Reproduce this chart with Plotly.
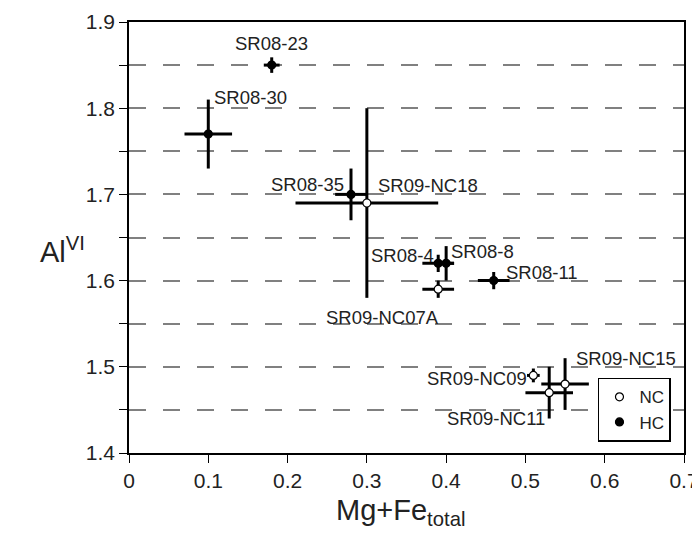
import plotly.graph_objects as go

# Sample data
samples = ["SR08-23", "SR08-30", "SR08-35", "SR09-NC18", "SR08-4", "SR08-8",
           "SR08-11", "SR09-NC07A", "SR09-NC09", "SR09-NC15", "SR09-NC11"]
groups = ["HC", "HC", "HC", "NC", "HC", "HC", "HC", "NC", "NC", "NC", "NC"]
mg_fe = [0.18, 0.10, 0.28, 0.30, 0.39, 0.40, 0.46, 0.39, 0.51, 0.55, 0.53]
al_vi = [1.85, 1.77, 1.70, 1.69, 1.62, 1.62, 1.60, 1.59, 1.49, 1.48, 1.47]
mg_fe_err = [0.01, 0.03, 0.02, 0.09, 0.02, 0.01, 0.02, 0.02, 0.008, 0.03, 0.03]
al_vi_err = [0.009, 0.04, 0.03, 0.11, 0.01, 0.02, 0.01, 0.01, 0.008, 0.03, 0.03]

# Label placement (pixel offsets from each point)
label_pos = {
    "SR08-23": ("center", 0, 22),
    "SR08-30": ("left", 4, 37),
    "SR08-35": ("right", -5, 10),
    "SR09-NC18": ("left", 9, 18),
    "SR08-4": ("right", -2, 8),
    "SR08-8": ("left", 3, 12),
    "SR08-11": ("left", 10, 8),
    "SR09-NC07A": ("center", -56, -28),
    "SR09-NC09": ("right", -4, -3),
    "SR09-NC15": ("left", 9, 26),
    "SR09-NC11": ("right", -2, -26),
}

FONT = "Liberation Sans, Arial, sans-serif"

fig = go.Figure()

for grp, fill in [("NC", "white"), ("HC", "black")]:
    idx = [i for i, g in enumerate(groups) if g == grp]
    fig.add_trace(go.Scatter(
        x=[mg_fe[i] for i in idx],
        y=[al_vi[i] for i in idx],
        mode="markers",
        name=grp,
        marker=dict(symbol="circle", size=8, color=fill,
                    line=dict(color="black", width=1.2)),
        error_x=dict(type="data", array=[mg_fe_err[i] for i in idx],
                     color="black", thickness=3, width=0),
        error_y=dict(type="data", array=[al_vi_err[i] for i in idx],
                     color="black", thickness=3, width=0),
    ))

for s, x, y in zip(samples, mg_fe, al_vi):
    anchor, dx, dy = label_pos[s]
    fig.add_annotation(x=x, y=y, text=s, showarrow=False,
                       xanchor=anchor, yanchor="middle",
                       xshift=dx, yshift=dy,
                       font=dict(family=FONT, size=18.5, color="#222"))

# axis titles
fig.add_annotation(xref="paper", yref="paper", x=-0.12, y=0.47,
                   text="Al<sup>VI</sup>", showarrow=False,
                   xanchor="center", yanchor="middle",
                   font=dict(family=FONT, size=29, color="#222"))
fig.add_annotation(xref="paper", yref="paper", x=0.49, y=-0.137,
                   text="Mg+Fe<sub>total</sub>", showarrow=False,
                   xanchor="center", yanchor="middle",
                   font=dict(family=FONT, size=29, color="#222"))

# page body adds an 8px offset, so size/margins are set to compensate
fig.update_layout(
    width=692, height=525,
    margin=dict(l=121, r=16, t=14, b=80),
    plot_bgcolor="white", paper_bgcolor="white",
    font=dict(family=FONT, size=21, color="#222"),
    showlegend=True,
    legend=dict(x=0.845, y=0.026, xanchor="left", yanchor="bottom",
                bordercolor="black", borderwidth=1.5, bgcolor="white",
                font=dict(size=17), itemwidth=30, tracegroupgap=0),
    xaxis=dict(
        range=[0, 0.7], dtick=0.1, tick0=0, automargin=False,
        showgrid=False, zeroline=False,
        showline=True, linecolor="black", linewidth=1.5, mirror=True,
        ticks="outside", ticklen=8, tickwidth=1.2, tickcolor="black",
    ),
    yaxis=dict(
        range=[1.4, 1.9], dtick=0.1, tick0=1.4, automargin=False,
        showgrid=True, gridcolor="#808080", gridwidth=1.5, griddash="17px,17px",
        zeroline=False,
        showline=True, linecolor="black", linewidth=1.5, mirror=True,
        ticks="outside", ticklen=8, tickwidth=1.2, tickcolor="black",
        tickformat=".1f",
        minor=dict(dtick=0.05, tick0=1.4, ticks="outside", ticklen=8,
                   tickcolor="black", showgrid=True, gridcolor="#808080",
                   gridwidth=1.5, griddash="17px,17px"),
    ),
)

fig.write_html("out.html")
